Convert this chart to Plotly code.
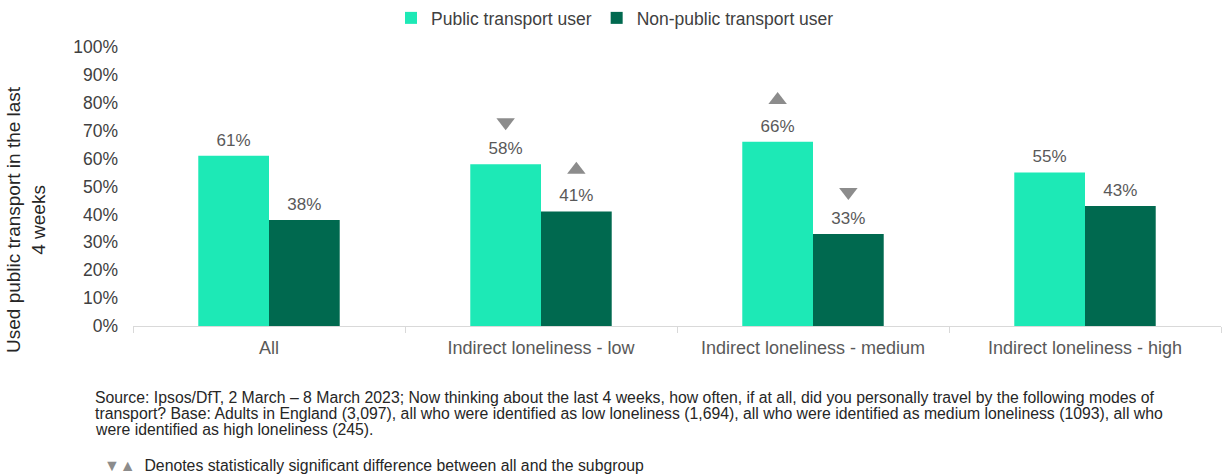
import plotly.graph_objects as go

# ---- data -------------------------------------------------------------
categories = [
    "All",
    "Indirect loneliness - low",
    "Indirect loneliness - medium",
    "Indirect loneliness - high",
]
public_user = [61, 58, 66, 55]
non_public_user = [38, 41, 33, 43]

# significant difference between "All" and the subgroup: "up", "down" or None
public_sig = [None, "down", "up", None]
non_public_sig = [None, "up", "down", None]

y_ticks = [0, 10, 20, 30, 40, 50, 60, 70, 80, 90, 100]
y_tick_labels = [f"{v}%" for v in y_ticks]

# ---- styling ----------------------------------------------------------
FONT = "Liberation Sans, Arial, sans-serif"
PUBLIC_COLOR = "#1DE9B6"
NON_PUBLIC_COLOR = "#00694F"
LABEL_COLOR = "#595959"
TICK_COLOR = "#404040"
SIG_COLOR = "#8C8C8C"
AXIS_LINE = "#D9D9D9"
SIG_OFFSET = 15  # percentage points between bar top and significance arrow
GAP = 0.48

SYMBOLS = {"up": "triangle-up", "down": "triangle-down"}

fig = go.Figure()


def add_series(name, values, sig, color, group):
    fig.add_trace(go.Bar(
        x=categories, y=values, name=name, marker_color=color,
        marker_line_width=0, offsetgroup=group, hoverinfo="x+y",
    ))
    # value labels above the bars
    fig.add_trace(go.Scatter(
        x=categories, y=values, mode="markers+text",
        text=[f"{v}%" for v in values], textposition="top center",
        textfont=dict(family=FONT, size=17, color=LABEL_COLOR),
        marker=dict(size=8, color="rgba(0,0,0,0)"),
        offsetgroup=group, showlegend=False, hoverinfo="skip", cliponaxis=False,
    ))
    # significance arrows
    ys = [v + SIG_OFFSET if s else None for v, s in zip(values, sig)]
    syms = [SYMBOLS.get(s, "circle") for s in sig]
    fig.add_trace(go.Scatter(
        x=categories, y=ys, mode="markers",
        marker=dict(symbol=syms, size=16, color=SIG_COLOR, line_width=0),
        offsetgroup=group, showlegend=False, hoverinfo="skip", cliponaxis=False,
    ))


add_series("Public transport user", public_user, public_sig, PUBLIC_COLOR, "pub")
add_series("Non-public transport user", non_public_user, non_public_sig, NON_PUBLIC_COLOR, "non")

W, H = 1222, 476
L, R, T, B = 133, 1, 47, 150
pw, ph = W - L - R, H - T - B


def px_x(x):
    return (x - L) / pw


def px_y(y):
    return (H - B - y) / ph


fig.update_layout(
    width=W, height=H,
    margin=dict(l=L, r=R, t=T, b=B),
    paper_bgcolor="white", plot_bgcolor="white",
    barmode="group", bargap=GAP, bargroupgap=0,
    scattermode="group", scattergap=GAP,
    font=dict(family=FONT, size=17, color=TICK_COLOR),
    showlegend=True,
    legend=dict(
        orientation="h", xref="container", yref="container",
        x=391 / W, xanchor="left", y=1.0, yanchor="top",
        font=dict(family=FONT, size=17.5, color=TICK_COLOR),
        itemclick=False, itemdoubleclick=False,
    ),
    xaxis=dict(
        type="category", tickson="boundaries", ticks="outside", ticklen=6,
        tickcolor=AXIS_LINE, showline=True, linecolor=AXIS_LINE, linewidth=1,
        showgrid=False, zeroline=False, ticklabelstandoff=5,
        tickfont=dict(family=FONT, size=18, color=LABEL_COLOR),
    ),
    yaxis=dict(
        range=[0, 100], tickvals=y_ticks, ticktext=y_tick_labels,
        showgrid=False, showline=False, zeroline=False, ticks="",
        ticklabelstandoff=14,
        tickfont=dict(family=FONT, size=17.5, color=TICK_COLOR),
    ),
)

annotations = [
    dict(
        text="Used public transport in the last<br>4 weeks",
        x=px_x(26), y=px_y(220), xref="paper", yref="paper",
        xanchor="center", yanchor="middle", textangle=-90, showarrow=False,
        font=dict(family=FONT, size=19, color="#262626"),
    ),
]

footnote_lines = [
    "Source: Ipsos/DfT, 2 March \u2013 8 March 2023; Now thinking about the last 4 weeks, how often, if at all, did you personally travel by the following modes of",
    "transport? Base: Adults in England (3,097), all who were identified as low loneliness (1,694), all who were identified as medium loneliness (1093), all who",
    "were identified as high loneliness (245).",
]
for i, line in enumerate(footnote_lines):
    annotations.append(dict(
        text=line, x=px_x(93), y=px_y(397 + 16 * i), xref="paper", yref="paper",
        xanchor="left", yanchor="middle", showarrow=False, align="left",
        font=dict(family=FONT, size=15.8, color="#262626"),
    ))

annotations.append(dict(
    text=f"<span style='color:{SIG_COLOR};font-size:16px'>\u25bc\u25b2</span>  Denotes statistically significant difference between all and the subgroup",
    x=px_x(102), y=px_y(466), xref="paper", yref="paper",
    xanchor="left", yanchor="middle", showarrow=False, align="left",
    font=dict(family=FONT, size=15.8, color="#262626"),
))

fig.update_layout(annotations=annotations)

fig.write_html("out.html")
